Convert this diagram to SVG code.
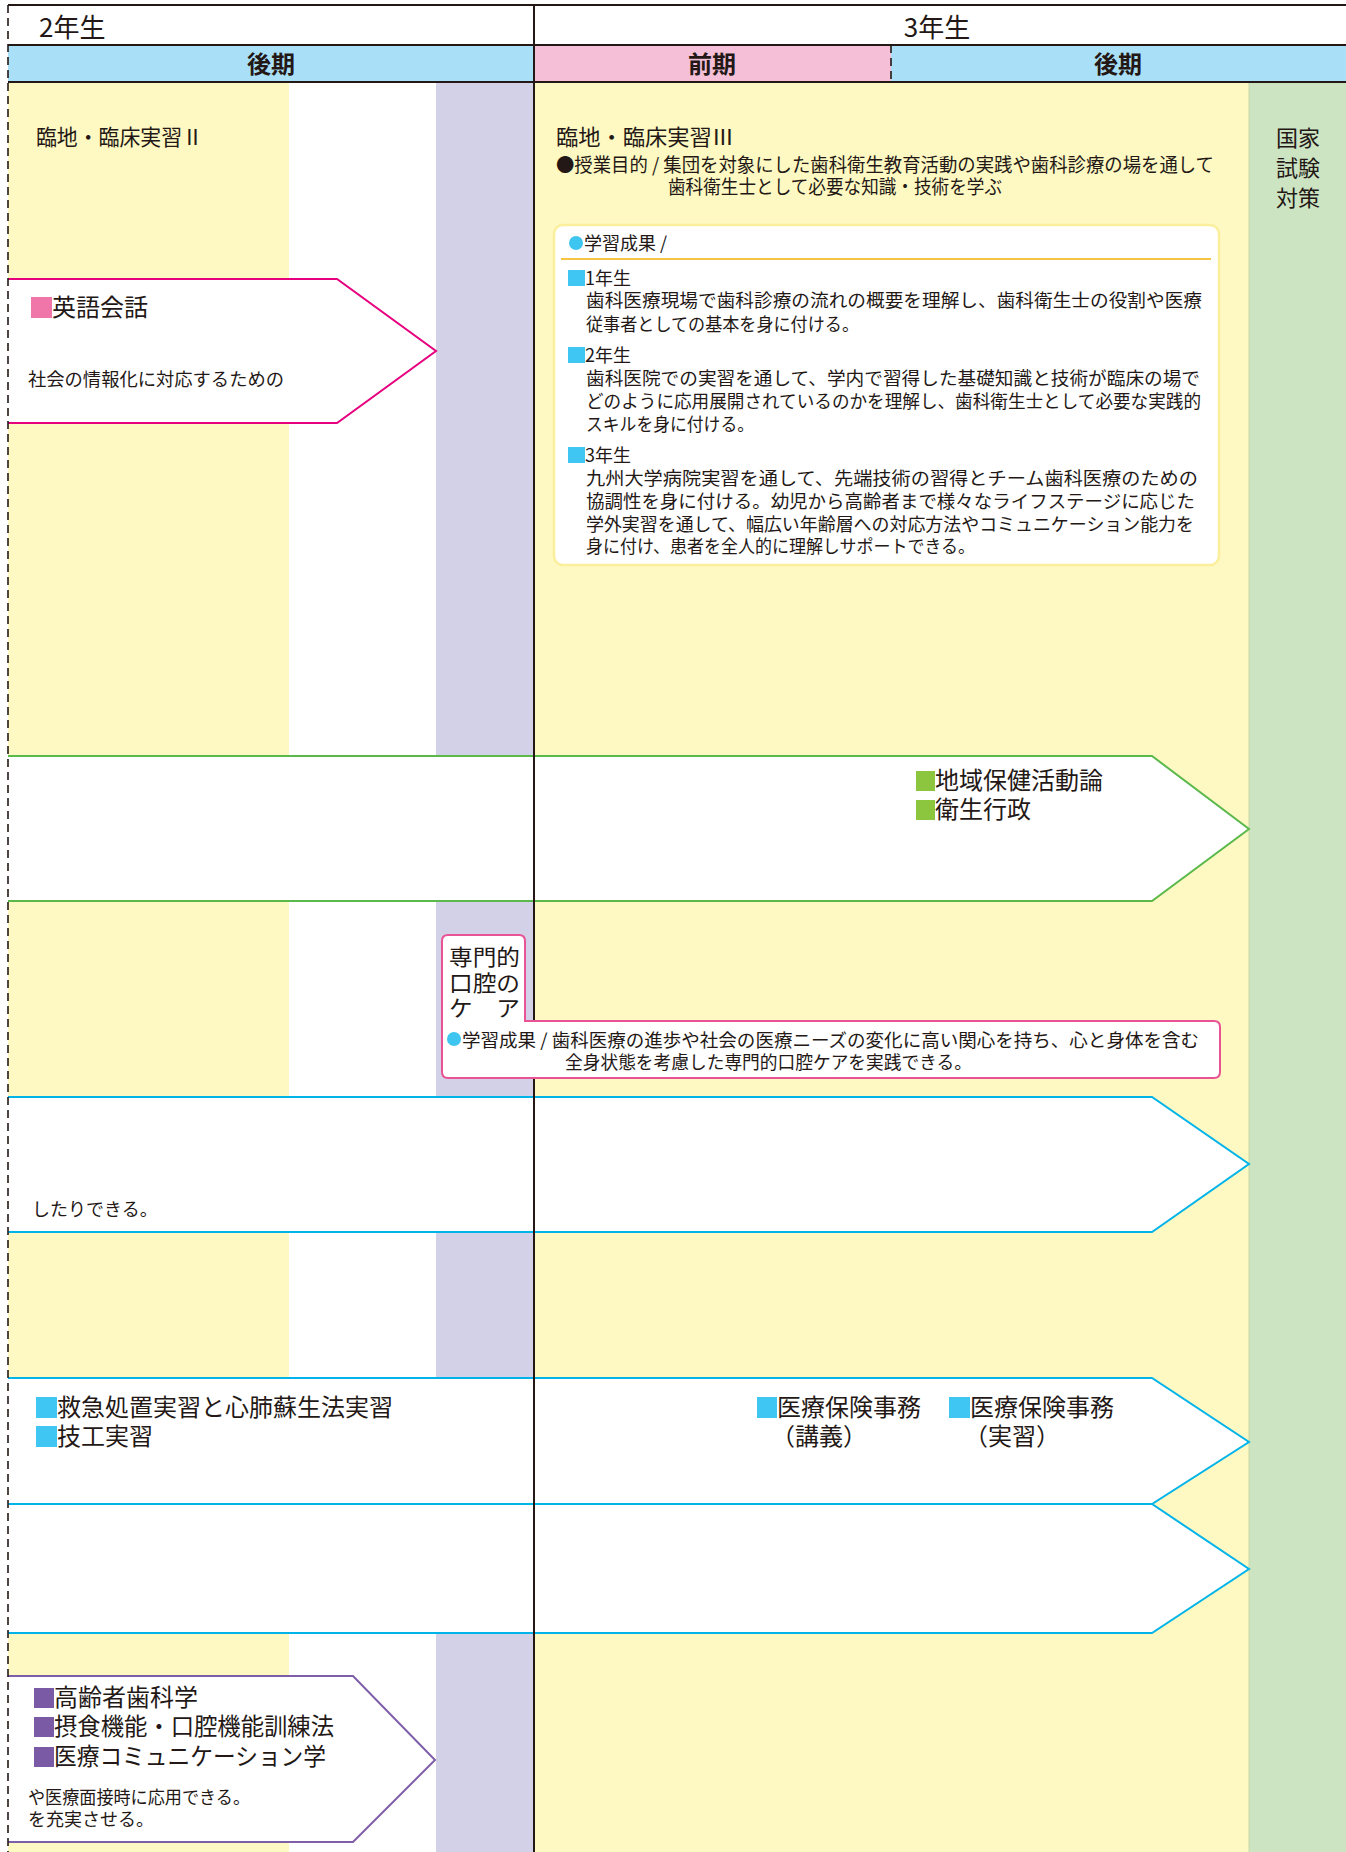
<svg xmlns="http://www.w3.org/2000/svg" width="1346" height="1852" viewBox="0 0 1346 1852">
<style>
.t{font-family:"Noto Sans CJK JP","Noto Sans",sans-serif;fill:#231815}
.f18{font-size:18px}.f19{font-size:19px}.f22{font-size:22px}.f24{font-size:24px}.f26{font-size:26px}
.b{font-weight:700}
.m{text-anchor:middle}
.arrow{fill:#fff;stroke-width:2}
.grid{stroke:#231815;stroke-width:2;fill:none}
.dash{stroke:#231815;stroke-width:1.6;stroke-dasharray:8 5;fill:none}
.sqPink{fill:#f075a9}.sqGreen{fill:#8cc63e}.sqCyan{fill:#40c6f3}.sqPurple{fill:#7b5aa5}
.cy{fill:#3ec6f0}
</style>
<rect x="0" y="0" width="1346" height="1852" fill="#fff"/>
<g id="background">
<rect x="8" y="82" width="281" height="1770" fill="#fef8c2"/>
<rect x="436" y="82" width="98" height="1770" fill="#d3d1e7"/>
<rect x="534" y="82" width="715" height="1770" fill="#fef8c2"/>
<rect x="1249" y="82" width="97" height="1770" fill="#cde4c3"/>
<line x1="1249" y1="82" x2="1249" y2="1852" stroke="#c9d9a6" stroke-width="1"/>
<rect x="8" y="45" width="526" height="37" fill="#a9dff7"/>
<rect x="534" y="45" width="357" height="37" fill="#f5bfd7"/>
<rect x="891" y="45" width="455" height="37" fill="#a9dff7"/>
</g>
<g id="header">
<text class="t f26" x="39" y="37">2年生</text>
<text class="t f26 m" x="937" y="37">3年生</text>
<text class="t f24 b m" x="271" y="73">後期</text>
<text class="t f24 b m" x="712" y="73">前期</text>
<text class="t f24 b m" x="1118" y="73">後期</text>
</g>
<g id="connectors"></g>
<g id="node-eigo">
<path class="arrow" stroke="#e6007e" d="M8,279 H337 L436,351 L337,423 H8"/>
<rect class="sqPink" x="31" y="297" width="21" height="21"/>
<text class="t f24" x="52" y="316">英語会話</text>
<text class="t f18" x="28" y="386" textLength="256" lengthAdjust="spacingAndGlyphs">社会の情報化に対応するための</text>
</g>
<g id="node-chiiki">
<path class="arrow" stroke="#5bb94b" d="M8,756 H1152 L1249,829 L1152,901 H8"/>
<rect class="sqGreen" x="916" y="771" width="19" height="20"/>
<text class="t f24" x="935" y="789">地域保健活動論</text>
<rect class="sqGreen" x="916" y="800" width="19" height="20"/>
<text class="t f24" x="935" y="818">衛生行政</text>
</g>
<g id="node-cyan1">
<path class="arrow" stroke="#00b4ea" d="M8,1097 H1152 L1249,1164 L1152,1232 H8"/>
<text class="t f18" x="32" y="1216">したりできる。</text>
</g>
<g id="node-cyan2">
<path class="arrow" stroke="#00b4ea" d="M8,1378 H1152 L1249,1442 L1152,1504 H8"/>
<rect class="sqCyan" x="36" y="1397" width="21" height="21"/>
<text class="t f24" x="57" y="1416" textLength="336" lengthAdjust="spacingAndGlyphs">救急処置実習と心肺蘇生法実習</text>
<rect class="sqCyan" x="36" y="1426" width="21" height="21"/>
<text class="t f24" x="57" y="1445">技工実習</text>
<rect class="sqCyan" x="757" y="1397" width="20" height="21"/>
<text class="t f24" x="777" y="1416">医療保険事務</text>
<text class="t f24" x="771" y="1445">（講義）</text>
<rect class="sqCyan" x="949" y="1397" width="21" height="21"/>
<text class="t f24" x="970" y="1416">医療保険事務</text>
<text class="t f24" x="964" y="1445">（実習）</text>
</g>
<g id="node-cyan3">
<path class="arrow" stroke="#00b4ea" d="M8,1504 H1152 L1249,1569 L1152,1633 H8"/>
</g>
<g id="node-koureisha">
<path class="arrow" stroke="#7e5ea8" d="M8,1676 H353 L435,1760 L353,1842 H8"/>
<rect class="sqPurple" x="34" y="1688" width="20" height="20"/>
<text class="t f24" x="54" y="1706">高齢者歯科学</text>
<rect class="sqPurple" x="34" y="1717" width="20" height="20"/>
<text class="t f24" x="54" y="1735" textLength="280" lengthAdjust="spacingAndGlyphs">摂食機能・口腔機能訓練法</text>
<rect class="sqPurple" x="34" y="1747" width="20" height="20"/>
<text class="t f24" x="54" y="1765" textLength="272" lengthAdjust="spacingAndGlyphs">医療コミュニケーション学</text>
<text class="t f18" x="28" y="1804" textLength="222" lengthAdjust="spacingAndGlyphs">や医療面接時に応用できる。</text>
<text class="t f18" x="28" y="1826">を充実させる。</text>
</g>
<g id="grid">
<line class="grid" x1="8" y1="5" x2="1346" y2="5"/>
<line class="grid" x1="8" y1="45" x2="1346" y2="45"/>
<line class="grid" x1="8" y1="82" x2="1346" y2="82"/>
<line class="grid" x1="534" y1="5" x2="534" y2="1852"/>
<line class="dash" x1="891" y1="45" x2="891" y2="82"/>
<line class="dash" x1="8" y1="5" x2="8" y2="1852"/>
</g>
<g id="node-rinchi2">
<text class="t f22" x="36" y="145" textLength="167" lengthAdjust="spacingAndGlyphs">臨地・臨床実習Ⅱ</text>
</g>
<g id="node-rinchi3">
<text class="t f22" x="556" y="145" textLength="178" lengthAdjust="spacingAndGlyphs">臨地・臨床実習Ⅲ</text>
<text class="t f19" x="556" y="172" textLength="658" lengthAdjust="spacingAndGlyphs">●授業目的 / 集団を対象にした歯科衛生教育活動の実践や歯科診療の場を通して</text>
<text class="t f19" x="668" y="194" textLength="334" lengthAdjust="spacingAndGlyphs">歯科衛生士として必要な知識・技術を学ぶ</text>
</g>
<g id="node-gakushu">
<rect x="554" y="225" width="665" height="340" rx="9" fill="#fff" stroke="#fbef9c" stroke-width="2.5"/>
<circle class="cy" cx="576" cy="243" r="7"/>
<text class="t f18" x="584" y="250">学習成果 /</text>
<line x1="561" y1="259" x2="1211" y2="259" stroke="#f6c342" stroke-width="2"/>
<rect class="sqCyan" x="568" y="270" width="17" height="16"/>
<text class="t f18" x="585" y="285">1年生</text>
<text class="t f18" x="586" y="307" textLength="616" lengthAdjust="spacingAndGlyphs">歯科医療現場で歯科診療の流れの概要を理解し、歯科衛生士の役割や医療</text>
<text class="t f18" x="586" y="331" textLength="273" lengthAdjust="spacingAndGlyphs">従事者としての基本を身に付ける。</text>
<rect class="sqCyan" x="568" y="347" width="17" height="16"/>
<text class="t f18" x="585" y="362">2年生</text>
<text class="t f18" x="586" y="385" textLength="614" lengthAdjust="spacingAndGlyphs">歯科医院での実習を通して、学内で習得した基礎知識と技術が臨床の場で</text>
<text class="t f18" x="586" y="408" textLength="615" lengthAdjust="spacingAndGlyphs">どのように応用展開されているのかを理解し、歯科衛生士として必要な実践的</text>
<text class="t f18" x="586" y="431" textLength="168" lengthAdjust="spacingAndGlyphs">スキルを身に付ける。</text>
<rect class="sqCyan" x="568" y="447" width="17" height="16"/>
<text class="t f18" x="585" y="462">3年生</text>
<text class="t f18" x="586" y="485" textLength="612" lengthAdjust="spacingAndGlyphs">九州大学病院実習を通して、先端技術の習得とチーム歯科医療のための</text>
<text class="t f18" x="586" y="508" textLength="609" lengthAdjust="spacingAndGlyphs">協調性を身に付ける。幼児から高齢者まで様々なライフステージに応じた</text>
<text class="t f18" x="586" y="531" textLength="608" lengthAdjust="spacingAndGlyphs">学外実習を通して、幅広い年齢層への対応方法やコミュニケーション能力を</text>
<text class="t f18" x="586" y="553" textLength="389" lengthAdjust="spacingAndGlyphs">身に付け、患者を全人的に理解しサポートできる。</text>
</g>
<g id="node-kokka">
<text class="t f22 m" x="1298" y="146">国家</text>
<text class="t f22 m" x="1298" y="176">試験</text>
<text class="t f22 m" x="1298" y="206">対策</text>
</g>
<g id="node-senmon">
<path d="M448,935 H519 Q525,935 525,941 V1021 H1214 Q1220,1021 1220,1027 V1072 Q1220,1078 1214,1078 H448 Q442,1078 442,1072 V941 Q442,935 448,935 Z" fill="#fff" stroke="#e95294" stroke-width="2"/>
<text class="t f22" x="449" y="965" textLength="71" lengthAdjust="spacingAndGlyphs">専門的</text>
<text class="t f22" x="449" y="991" textLength="71" lengthAdjust="spacingAndGlyphs">口腔の</text>
<text class="t f22" x="449" y="1016" textLength="71" lengthAdjust="spacingAndGlyphs">ケ　ア</text>
<circle class="cy" cx="454" cy="1039" r="7"/>
<text class="t f18" x="462" y="1047" textLength="737" lengthAdjust="spacingAndGlyphs">学習成果 / 歯科医療の進歩や社会の医療ニーズの変化に高い関心を持ち、心と身体を含む</text>
<text class="t f18" x="565" y="1069" textLength="407" lengthAdjust="spacingAndGlyphs">全身状態を考慮した専門的口腔ケアを実践できる。</text>
</g>
</svg>
